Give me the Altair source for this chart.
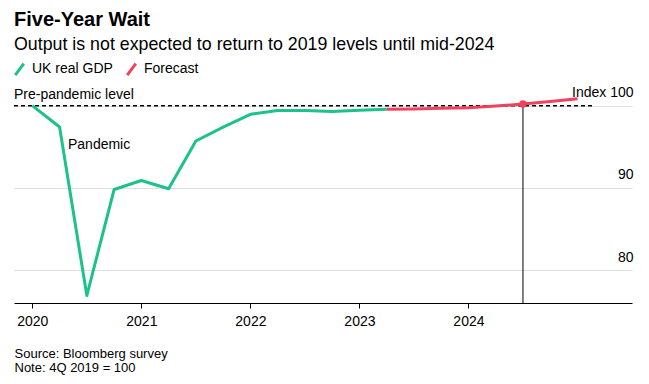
import altair as alt
import pandas as pd

# Quarterly index values (4Q 2019 = 100), placed at fractional years
gdp_t = [2020.0, 2020.25, 2020.5, 2020.75, 2021.0, 2021.25, 2021.5, 2021.75,
         2022.0, 2022.25, 2022.5, 2022.75, 2023.0, 2023.25]
gdp_v = [100.0, 97.4, 76.9, 89.8, 90.9, 89.9, 95.7, 97.4,
         98.95, 99.4, 99.4, 99.3, 99.45, 99.55]

fc_t = [2023.25, 2023.5, 2023.75, 2024.0, 2024.25, 2024.5, 2024.75, 2025.0]
fc_v = [99.55, 99.6, 99.7, 99.75, 99.95, 100.2, 100.5, 100.85]

series_names = ["UK real GDP", "Forecast"]
series_colors = ["#1cc18b", "#f0425e"]

x_ticks = [2020, 2021, 2022, 2023, 2024]
y_ticks = [80, 90, 100]
x_domain = [2019.832, 2025.5]
y_domain = [76, 103]

ref_level = 100
ref_span = [2019.832, 2025.16]
recovery_t = 2024.5
recovery_v = 100.2

FONT = "Liberation Sans"

df = pd.DataFrame({
    "t": gdp_t + fc_t,
    "v": gdp_v + fc_v,
    "series": [series_names[0]] * len(gdp_t) + [series_names[1]] * len(fc_t),
})

xs = alt.Scale(domain=x_domain, nice=False, zero=False)
ys = alt.Scale(domain=y_domain, nice=False, zero=False)

x_axis = alt.Axis(
    values=x_ticks, format="d", grid=False,
    domainColor="#000", domainWidth=1, tickColor="#000", tickSize=5,
    labelFontSize=14, labelColor="#000", labelFont=FONT, labelPadding=6,
    title=["Source: Bloomberg survey", "Note: 4Q 2019 = 100"],
    titleFont=FONT, titleFontSize=13, titleFontWeight="normal", titleColor="#000",
    titleAnchor="start", titleAlign="left", titleBaseline="top",
    titleX=0, titleY=44, titleLineHeight=14,
)
y_axis = alt.Axis(
    orient="right", values=y_ticks, grid=True, gridColor="#dedede", gridWidth=1,
    domain=False, ticks=False, labelAlign="right", labelPadding=1,
    labelBaseline="alphabetic", labelOffset=-9,
    labelFontSize=14, labelColor="#000", labelFont=FONT,
    labelExpr="datum.value == 100 ? 'Index 100' : datum.label", title=None,
)

lines = alt.Chart(df).mark_line(strokeWidth=3, strokeJoin="round").encode(
    x=alt.X("t:Q", scale=xs, axis=x_axis),
    y=alt.Y("v:Q", scale=ys, axis=y_axis),
    color=alt.Color("series:N",
                    scale=alt.Scale(domain=series_names, range=series_colors),
                    sort=series_names,
                    legend=alt.Legend(
                        orient="none", legendX=-2, legendY=-19.5,
                        direction="horizontal", title=None,
                        symbolType="M-0.75,1L0.75,-1", symbolSize=130,
                        symbolStrokeWidth=3, labelFontSize=14, labelFont=FONT,
                        labelColor="#000", labelOffset=5, columnPadding=8,
                    )),
    detail="series:N",
)

ref_df = pd.DataFrame({"x1": [ref_span[0]], "x2": [ref_span[1]], "y": [ref_level]})
ref_rule = alt.Chart(ref_df).mark_rule(color="#000", strokeWidth=1.5, strokeDash=[4, 3]).encode(
    x=alt.X("x1:Q", scale=xs), x2="x2:Q", y=alt.Y("y:Q", scale=ys)
)

vdf = pd.DataFrame({"t": [recovery_t], "y1": [y_domain[0]], "y2": [recovery_v], "v": [recovery_v]})
vrule = alt.Chart(vdf).mark_rule(color="#000", strokeWidth=1).encode(
    x=alt.X("t:Q", scale=xs), y=alt.Y("y1:Q", scale=ys), y2="y2:Q"
)
dot = alt.Chart(vdf).mark_circle(color=series_colors[1], size=55, opacity=1).encode(
    x=alt.X("t:Q", scale=xs), y=alt.Y("v:Q", scale=ys)
)

ann_df = pd.DataFrame({
    "t": [2019.832, 2020.327],
    "v": [101.25, 95.25],
    "label": ["Pre-pandemic level", "Pandemic"],
})
ann = alt.Chart(ann_df).mark_text(align="left", baseline="middle", fontSize=14,
                                  font=FONT, color="#000").encode(
    x=alt.X("t:Q", scale=xs), y=alt.Y("v:Q", scale=ys), text="label:N"
)

chart = alt.layer(ref_rule, lines, vrule, dot, ann).properties(
    width=618, height=222,
    padding={"top": 1, "left": 4, "right": 5, "bottom": 5},
    title=alt.TitleParams(
        text="Five-Year Wait",
        subtitle="Output is not expected to return to 2019 levels until mid-2024",
        anchor="start", frame="group", font=FONT, fontSize=20, fontWeight="bold",
        color="#000", subtitleFont=FONT, subtitleFontSize=17.8, subtitleColor="#000",
        subtitlePadding=6, offset=8.2,
    ),
).configure_view(stroke=None)

chart.save("out.html", embed_options={"renderer": "svg", "actions": False})
